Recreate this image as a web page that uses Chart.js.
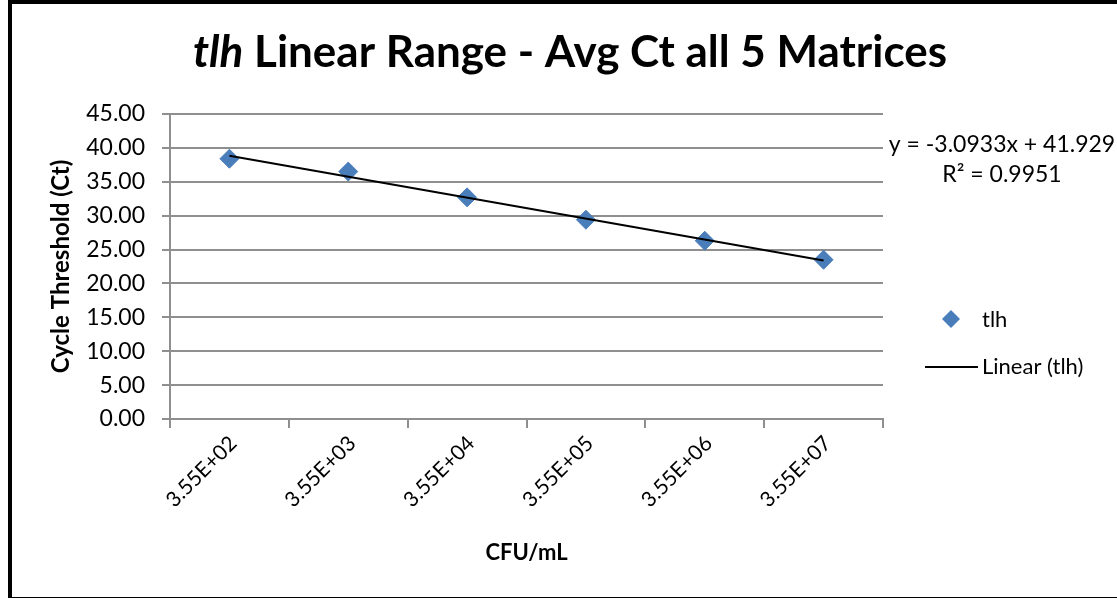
<!DOCTYPE html>
<html>
<head>
<meta charset="utf-8">
<title>tlh Linear Range - Avg Ct all 5 Matrices</title>
<script src="https://cdn.jsdelivr.net/npm/chart.js@4/dist/chart.umd.min.js"></script>
<style>
  html, body { margin: 0; padding: 0; background: #fff; }
  #wrap { width: 1117px; height: 598px; }
</style>
</head>
<body>
<div id="wrap"><canvas id="ctChart" width="1117" height="598"></canvas></div>
<script>
// data
const categories = ["3.55E+02", "3.55E+03", "3.55E+04", "3.55E+05", "3.55E+06", "3.55E+07"]
const avgCt = [38.4, 36.5, 32.7, 29.4, 26.3, 23.5]
const yMin = 0
const yMax = 45
const yStep = 5

// Excel trendline as printed on the chart
const trendSlope = -3.0933
const trendIntercept = 41.929
const rSquared = 0.9951

// trendline runs from the first to the last category (x = 1..n)
const trendValues = categories.map((c, i) =>
  (i === 0 || i === categories.length - 1) ? trendSlope * (i + 1) + trendIntercept : null)

const gridGray = '#8f8f8f'
const pointBlue = '#4a7ebb'

Chart.defaults.font.family = 'Lato'
Chart.defaults.color = '#000'

// title with italic gene name, legend, equation label and outer frame
const decorations = {
  id: 'decorations',
  afterDraw(chart) {
    const ctx = chart.ctx
    ctx.save()

    // title, squeezed to the width Calibri takes in the original
    const part1 = 'tlh'
    const part2 = ' Linear Range - Avg Ct all 5 Matrices'
    const f1 = 'italic bold 43px Lato'
    const f2 = 'bold 43px Lato'
    ctx.font = f1
    const w1 = ctx.measureText(part1).width
    ctx.font = f2
    const w2 = ctx.measureText(part2).width
    const sx = 754 / (w1 + w2)
    ctx.translate(193, 67)
    ctx.scale(sx, 1)
    ctx.fillStyle = '#000'
    ctx.textBaseline = 'alphabetic'
    ctx.textAlign = 'left'
    ctx.font = f1
    ctx.fillText(part1, 0, 0)
    ctx.font = f2
    ctx.fillText(part2, w1, 0)
    ctx.setTransform(1, 0, 0, 1, 0, 0)

    // trendline equation
    ctx.font = '23px Lato'
    ctx.textAlign = 'center'
    ctx.fillText('y = ' + trendSlope + 'x + ' + trendIntercept, 1002, 152)
    ctx.fillText('R\u00b2 = ' + rSquared, 1002, 182)

    // legend
    ctx.textAlign = 'left'
    ctx.font = '22px Lato'
    ctx.fillStyle = pointBlue
    ctx.beginPath()
    ctx.moveTo(951, 310)
    ctx.lineTo(960, 319)
    ctx.lineTo(951, 328)
    ctx.lineTo(942, 319)
    ctx.closePath()
    ctx.fill()
    ctx.fillStyle = '#000'
    ctx.fillText('tlh', 982, 327)
    ctx.strokeStyle = '#000'
    ctx.lineWidth = 2
    ctx.beginPath()
    ctx.moveTo(925, 367)
    ctx.lineTo(978, 367)
    ctx.stroke()
    ctx.fillText('Linear (tlh)', 982, 374)

    // frame
    ctx.lineWidth = 4
    ctx.strokeRect(10, 2, 1200, 597)
    ctx.restore()
  }
}

new Chart(document.getElementById('ctChart'), {
  type: 'line',
  data: {
    labels: categories,
    datasets: [{
      label: 'Linear (tlh)',
      data: trendValues,
      spanGaps: true,
      borderColor: '#000',
      borderWidth: 2,
      pointRadius: 0,
      tension: 0,
      fill: false,
      order: 0
    }, {
      label: 'tlh',
      data: avgCt,
      showLine: false,
      pointStyle: 'rectRot',
      pointRadius: 9.5,
      pointBackgroundColor: pointBlue,
      pointBorderColor: pointBlue,
      pointBorderWidth: 1,
      order: 1
    }]
  },
  options: {
    responsive: false,
    animation: false,
    layout: {
      padding: { top: 114, right: 234, bottom: 0, left: 0 }
    },
    plugins: {
      legend: { display: false },
      title: { display: false },
      tooltip: { enabled: false }
    },
    scales: {
      x: {
        offset: true,
        afterFit: s => { s.height = 179 },
        grid: {
          offset: true,
          drawOnChartArea: false,
          drawTicks: true,
          tickLength: 9,
          color: gridGray,
          lineWidth: 2
        },
        border: { display: true, color: gridGray, width: 2 },
        ticks: {
          autoSkip: false,
          minRotation: 45,
          maxRotation: 45,
          padding: 3,
          labelOffset: 4,
          font: { size: 21 }
        },
        title: {
          display: true,
          text: 'CFU/mL',
          font: { size: 22, weight: 'bold' },
          padding: { top: 0, bottom: 32 }
        }
      },
      y: {
        min: yMin,
        max: yMax,
        afterFit: s => { s.width = 170 },
        grid: {
          color: gridGray,
          lineWidth: 2,
          drawTicks: true,
          tickLength: 8
        },
        border: { display: true, color: gridGray, width: 2 },
        ticks: {
          stepSize: yStep,
          padding: 17,
          font: { size: 23 },
          callback: v => v.toFixed(2)
        },
        title: {
          display: true,
          text: 'Cycle Threshold (Ct)',
          font: { size: 24, weight: 'bold' },
          padding: { top: 47, bottom: 0 }
        }
      }
    }
  },
  plugins: [decorations]
})
</script>
</body>
</html>
